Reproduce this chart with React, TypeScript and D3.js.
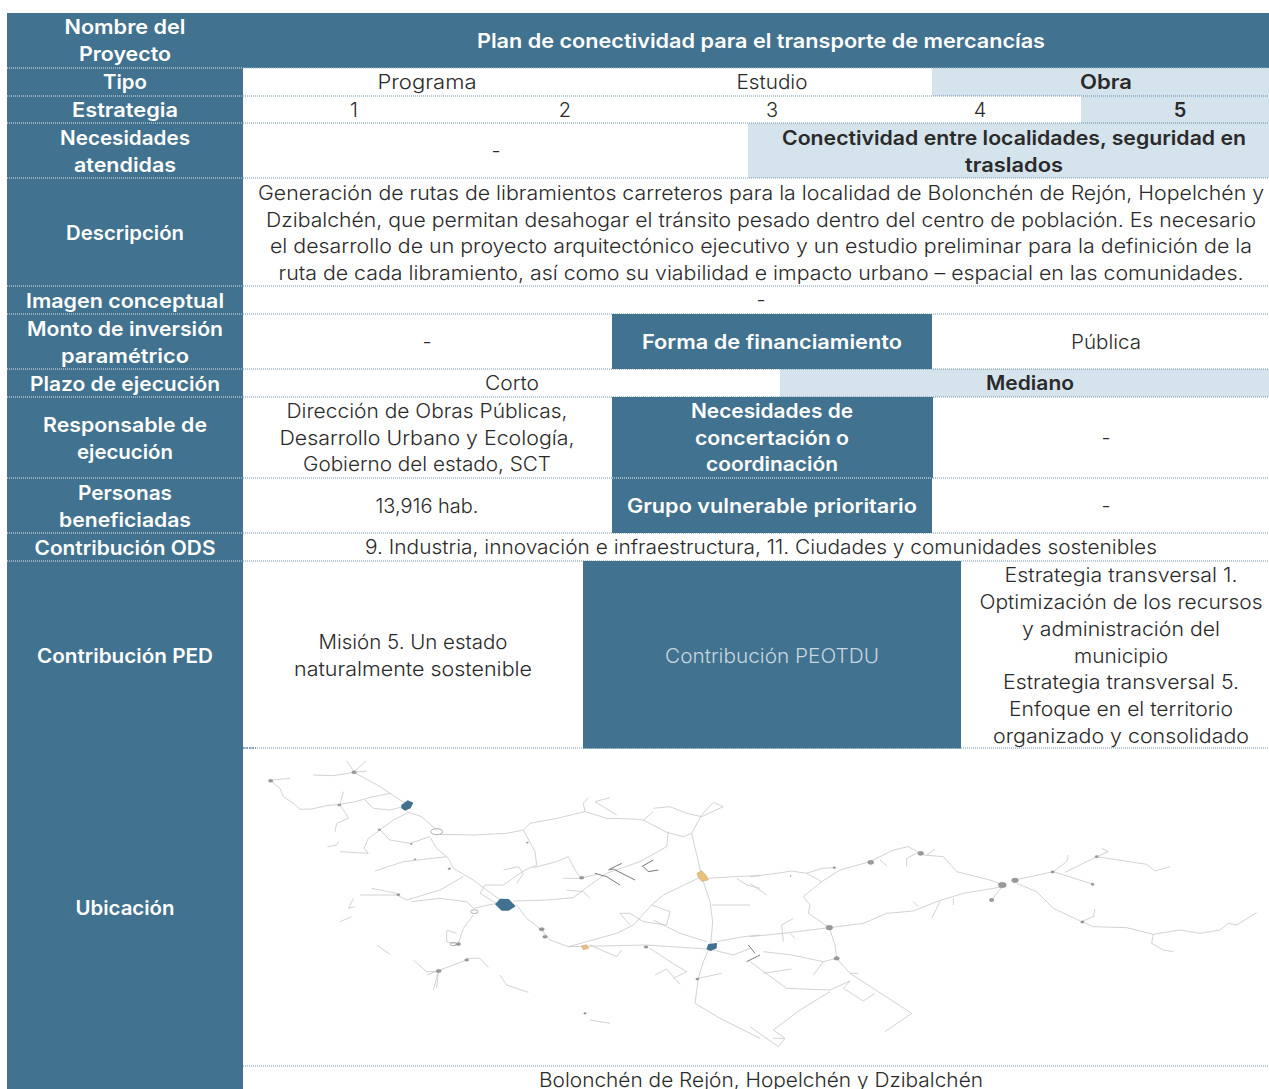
import React from "react";
import * as d3 from "d3";

const BLUE = "#41728f";
const PALE = "#d5e3ec";
const INK = "#2a2a2a";

// Row names and edges of the table, top to bottom
const rowNames = ["nombre", "tipo", "estrategia", "necesidades", "descripcion", "imagen", "monto", "plazo", "responsable", "personas", "ods", "ped", "ubicacion", "pie"];
const rowEdges = [13, 68, 96, 123, 178, 286, 314, 369, 397, 478, 533, 561, 748, 1066, 1094];

// Left column labels
const rowLabels = [
  ["Nombre del", "Proyecto"],
  ["Tipo"],
  ["Estrategia"],
  ["Necesidades", "atendidas"],
  ["Descripción"],
  ["Imagen conceptual"],
  ["Monto de inversión", "paramétrico"],
  ["Plazo de ejecución"],
  ["Responsable de", "ejecución"],
  ["Personas", "beneficiadas"],
  ["Contribución ODS"],
  ["Contribución PED"],
  ["Ubicación"],
];

const projectTitle = ["Plan de conectividad para el transporte de mercancías"];
const tipoOptions = ["Programa", "Estudio", "Obra"];
const estrategiaOptions = ["1", "2", "3", "4", "5"];
const necesidades = ["Conectividad entre localidades, seguridad en", "traslados"];
const descripcion = [
  "Generación de rutas de libramientos carreteros para la localidad de Bolonchén de Rejón, Hopelchén y",
  "Dzibalchén, que permitan desahogar el tránsito pesado dentro del centro de población. Es necesario",
  "el desarrollo de un proyecto arquitectónico ejecutivo y un estudio preliminar para la definición de la",
  "ruta de cada libramiento, así como su viabilidad e impacto urbano – espacial en las comunidades.",
];
const plazoOptions = ["Corto", "Mediano"];
const responsables = ["Dirección de Obras Públicas,", "Desarrollo Urbano y Ecología,", "Gobierno del estado, SCT"];
const concertacion = ["Necesidades de", "concertación o", "coordinación"];
const ods = ["9. Industria, innovación e infraestructura, 11. Ciudades y comunidades sostenibles"];
const ped = ["Misión 5. Un estado", "naturalmente sostenible"];
const peotdu = [
  "Estrategia transversal 1.",
  "Optimización de los recursos",
  "y administración del",
  "municipio",
  "Estrategia transversal 5.",
  "Enfoque en el territorio",
  "organizado y consolidado",
];
const caption = ["Bolonchén de Rejón, Hopelchén y Dzibalchén"];

// Width each line takes in the reference, so the substitute font fills the same run
const lineWidths: Record<string, number> = {
  "Nombre del": 121, Proyecto: 92, Tipo: 44, Estrategia: 106, Necesidades: 130, atendidas: 102,
  "Descripción": 118, "Imagen conceptual": 198, "Monto de inversión": 196, "paramétrico": 128,
  "Plazo de ejecución": 190, "Responsable de": 164, "ejecución": 96, Personas: 94, beneficiadas: 132,
  "Contribución ODS": 181, "Contribución PED": 176, "Ubicación": 99,
  [projectTitle[0]]: 568, Programa: 99, Estudio: 71, Obra: 52,
  [necesidades[0]]: 464, traslados: 98,
  [descripcion[0]]: 1006, [descripcion[1]]: 990, [descripcion[2]]: 982, [descripcion[3]]: 965,
  "Forma de financiamiento": 260, "Pública": 70, Corto: 54, Mediano: 88,
  [responsables[0]]: 281, [responsables[1]]: 295, [responsables[2]]: 248,
  "Necesidades de": 162, "concertación o": 154, "coordinación": 132,
  "13,916 hab.": 103, "Grupo vulnerable prioritario": 290, [ods[0]]: 792,
  [ped[0]]: 189, [ped[1]]: 238, "Contribución PEOTDU": 214,
  [peotdu[0]]: 233, [peotdu[1]]: 283, [peotdu[2]]: 198, [peotdu[3]]: 94, [peotdu[4]]: 236, [peotdu[5]]: 224, [peotdu[6]]: 256,
  [caption[0]]: 444,
};

type Pt = [number, number];

// Map roads, read in the units of the western and eastern halves of the map
const roadsWest: Pt[][] = [
  [[100, 105], [150, 100]],
  [[95, 110], [120, 130], [130, 155], [160, 175], [180, 193], [215, 192], [260, 182], [300, 178], [345, 170], [400, 155], [450, 145]],
  [[220, 90], [280, 92], [342, 82], [380, 78]],
  [[320, 48], [342, 80], [378, 48]],
  [[342, 82], [420, 125], [500, 178]],
  [[300, 178], [310, 140]],
  [[300, 180], [320, 210], [325, 220], [290, 235], [285, 260]],
  [[295, 290], [290, 300], [262, 305]],
  [[375, 165], [400, 190], [450, 195], [490, 185]],
  [[500, 200], [545, 215], [590, 255]],
  [[500, 205], [460, 225], [420, 255], [385, 280], [372, 310], [385, 325], [300, 320]],
  [[420, 255], [450, 285], [510, 295], [570, 275]],
  [[600, 268], [700, 270], [800, 265], [850, 255], [870, 235], [950, 220], [1035, 200], [1100, 220], [1180, 222], [1210, 225], [1280, 262], [1330, 275], [1355, 265]],
  [[1035, 200], [1030, 175], [1045, 158]],
  [[1065, 170], [1110, 158]],
  [[1065, 170], [1130, 210]],
  [[850, 255], [885, 320], [890, 360], [855, 375], [790, 420], [735, 420], [720, 445], [770, 475]],
  [[790, 375], [835, 365], [850, 385], [830, 415]],
  [[572, 280], [590, 310], [625, 340], [640, 370], [700, 405], [760, 450], [800, 478]],
  [[405, 378], [490, 350], [620, 335]],
  [[360, 450], [470, 450], [500, 465], [600, 435], [670, 395]],
  [[395, 430], [470, 445]],
  [[515, 470], [600, 460], [680, 470], [700, 490]],
  [[700, 490], [770, 475]],
  [[700, 510], [670, 550], [655, 595]],
  [[620, 558], [620, 590], [655, 600]],
  [[620, 555], [650, 565]],
  [[680, 645], [600, 675], [560, 690]],
  [[680, 640], [720, 640], [745, 668]],
  [[520, 645], [560, 680], [595, 680], [590, 730]],
  [[595, 680], [580, 735]],
  [[780, 690], [800, 720], [865, 742]],
  [[410, 600], [450, 628]],
  [[300, 530], [335, 515]],
  [[340, 460], [325, 490], [345, 485]],
  [[820, 468], [920, 465], [1000, 458], [1050, 420], [1100, 385], [1200, 350], [1280, 305], [1285, 260]],
  [[880, 368], [950, 350], [985, 335], [1005, 375], [1020, 395]],
  [[970, 400], [1020, 400], [1070, 388]],
  [[980, 435], [1030, 440], [1050, 460]],
  [[830, 480], [860, 520], [905, 555], [930, 585], [985, 605], [1040, 590], [1130, 565], [1180, 540], [1235, 480], [1270, 450], [1385, 395]],
  [[1235, 480], [1290, 500], [1280, 540], [1210, 530], [1170, 505], [1140, 505], [1170, 540]],
  [[1240, 525], [1320, 565], [1400, 590]],
  [[985, 605], [1220, 600], [1400, 612]],
  [[1050, 600], [1130, 635], [1145, 615]],
  [[1230, 610], [1290, 650], [1340, 680], [1300, 700]],
  [[1245, 690], [1280, 672], [1320, 718]],
  [[1355, 265], [1375, 350], [1385, 395], [1410, 470], [1418, 530], [1412, 600], [1390, 650], [1375, 700], [1365, 775], [1440, 820], [1500, 850], [1560, 880]],
  [[1375, 700], [1445, 685]],
  [[1355, 265], [1385, 210], [1420, 172], [1450, 185], [1385, 215], [1340, 205], [1290, 185], [1240, 190]],
  [[1240, 200], [1210, 225]],
  [[1405, 400], [1480, 395], [1560, 392]],
  [[1490, 400], [1520, 420], [1560, 430]],
  [[1415, 480], [1530, 480]],
  [[1430, 590], [1510, 575], [1560, 570]],
  [[1420, 615], [1480, 630], [1530, 610]],
  [[1050, 825], [1110, 835]],
];

const roadsEast: Pt[][] = [
  [[0, 395], [80, 385], [125, 378], [170, 385], [215, 410], [270, 375], [360, 350], [430, 315], [475, 305], [520, 330], [580, 335], [620, 380], [720, 405], [760, 420]],
  [[170, 385], [215, 370], [255, 368]],
  [[215, 410], [160, 455], [180, 480], [175, 505], [238, 548], [340, 535], [410, 505], [490, 498], [560, 470], [640, 445], [760, 425]],
  [[0, 575], [100, 565], [238, 548], [255, 600], [260, 640], [300, 685], [485, 805], [405, 860]],
  [[260, 640], [220, 650], [125, 630], [40, 620]],
  [[130, 520], [95, 540], [100, 590]],
  [[120, 565], [135, 580]],
  [[0, 650], [110, 730], [240, 735], [300, 708], [280, 730], [340, 768], [375, 745]],
  [[300, 685], [325, 685]],
  [[240, 740], [150, 795], [70, 855], [105, 880], [85, 905], [0, 845]],
  [[70, 880], [105, 880]],
  [[40, 685], [125, 672]],
  [[220, 650], [190, 690]],
  [[470, 365], [470, 340], [500, 325]],
  [[530, 330], [555, 312]],
  [[490, 470], [505, 485]],
  [[570, 470], [545, 520]],
  [[610, 460], [610, 480]],
  [[760, 420], [725, 465]],
  [[795, 405], [910, 380], [950, 350], [955, 330]],
  [[910, 380], [1030, 418]],
  [[945, 382], [1040, 335], [1075, 320], [1055, 310]],
  [[1040, 335], [1190, 358], [1215, 378], [1260, 365]],
  [[800, 415], [860, 440], [910, 490], [995, 530], [1030, 515], [1035, 492]],
  [[995, 530], [1030, 545], [1130, 548], [1210, 568], [1290, 555], [1350, 565], [1410, 555], [1435, 535], [1460, 540], [1520, 503]],
  [[1210, 568], [1205, 595], [1240, 615], [1270, 620]],
  [[0, 415], [50, 450]],
  [[390, 345], [410, 362]],
];

// Dark street grids in the western half
const streetsWest: Pt[][] = [
  [[1105, 375], [1120, 372], [1185, 405]],
  [[1065, 385], [1100, 395], [1140, 420]],
  [[1110, 372], [1145, 355]],
  [[1205, 365], [1240, 345]],
  [[1210, 365], [1225, 380], [1255, 375]],
  [[1525, 600], [1545, 625]],
  [[1520, 650], [1560, 630]],
];

// Built up areas
const bluePolygonsWest: Pt[][] = [
  [[484, 180], [503, 166], [520, 173], [512, 190], [495, 197], [484, 190]],
  [[765, 478], [780, 461], [806, 462], [827, 484], [806, 497], [785, 497]],
  [[1399, 613], [1405, 597], [1431, 594], [1430, 610], [1412, 618]],
];
const orangePolygonsWest: Pt[][] = [
  [[1371, 385], [1385, 377], [1400, 393], [1405, 405], [1385, 409], [1375, 397]],
  [[1024, 603], [1040, 599], [1046, 610], [1030, 614]],
];

// Small localities as [x, y, half width]
const townsWest: [number, number, number][] = [
  [92, 107, 7], [342, 82, 7], [298, 180, 5], [418, 254, 4], [514, 297, 3], [525, 343, 3], [628, 371, 4],
  [862, 293, 3], [475, 449, 5], [655, 597, 7], [680, 645, 6], [596, 678, 8], [905, 553, 8], [915, 575, 7],
  [1025, 398, 7], [1218, 606, 6], [1372, 702, 5], [1035, 805, 4],
];
const townsEast: [number, number, number][] = [
  [238, 548, 10], [260, 640, 8], [757, 420, 12], [795, 406, 10], [725, 465, 7], [908, 381, 5],
  [1040, 335, 5], [1028, 418, 5], [997, 531, 5], [512, 325, 9], [362, 352, 9], [253, 368, 4], [122, 393, 2],
];
// Localities drawn only as an outline
const outlineTownsWest: [number, number, number][] = [
  [590, 260, 18], [703, 500, 11], [640, 597, 10],
];

const yRow = d3.scaleOrdinal<string, number>().domain(rowNames).range(rowEdges);
const rowTop = (name: string) => yRow(name);
const rowBottom = (name: string) => rowEdges[rowNames.indexOf(name) + 1];

const xWest = d3.scaleLinear().domain([0, 1560]).range([240, 760]);
const xEast = d3.scaleLinear().domain([0, 1557]).range([750, 1269]);
const yMap = d3.scaleLinear().domain([0, 1032]).range([745, 1089]);

const lineWest = d3.line<Pt>().x((d) => xWest(d[0])).y((d) => yMap(d[1]));
const lineEast = d3.line<Pt>().x((d) => xEast(d[0])).y((d) => yMap(d[1]));

const FONT = "Inter, 'Open Sans', sans-serif";
const LINE_GAP = 26.8;

type CellProps = {
  lines: string[];
  x: number;
  row: string;
  bold?: boolean;
  fill?: string;
  size?: number;
  dy?: number;
};

// Centered block of text, each line fitted to its reference width
const Cell = ({ lines, x, row, bold = false, fill = INK, size = 20, dy = 0 }: CellProps) => {
  const mid = (rowTop(row) + rowBottom(row)) / 2 + dy;
  return (
    <g>
      {lines.map((line, i) => (
        <text
          key={line + i}
          x={x}
          y={mid + (i - (lines.length - 1) / 2) * LINE_GAP + 7}
          textAnchor="middle"
          fontFamily={FONT}
          fontSize={size}
          fontWeight={bold ? 600 : 300}
          fill={fill}
          textLength={lineWidths[line]}
          lengthAdjust="spacingAndGlyphs"
        >
          {line}
        </text>
      ))}
    </g>
  );
};

const band = (row: string, x0: number, x1: number, fill: string) => (
  <rect key={`${row}-${x0}`} x={x0} y={rowTop(row)} width={x1 - x0} height={rowBottom(row) - rowTop(row)} fill={fill} />
);

export default function App() {
  return (
    <svg
      width={1269}
      height={1089}
      viewBox="0 0 1269 1089"
      style={{ position: "absolute", left: 0, top: 0, background: "#fff" }}
    >
      <defs>
        <filter id="soft" x="-5%" y="-5%" width="110%" height="110%">
          <feGaussianBlur stdDeviation="0.4" />
        </filter>
      </defs>

      {/* fills */}
      <rect x={7} y={13} width={236} height={1076} fill={BLUE} />
      {band("nombre", 243, 1269, BLUE)}
      {band("tipo", 932, 1269, PALE)}
      {band("estrategia", 1081, 1269, PALE)}
      {band("necesidades", 748, 1269, PALE)}
      {band("monto", 612, 932, BLUE)}
      {band("plazo", 780, 1269, PALE)}
      {band("responsable", 612, 933, BLUE)}
      {band("personas", 612, 932, BLUE)}
      {band("ped", 583, 961, BLUE)}

      {/* dotted row lines */}
      {rowEdges.slice(1, 12).map((y) => (
        <line key={`a${y}`} x1={7} x2={243} y1={y} y2={y} stroke="#fff" strokeOpacity={0.85} strokeDasharray="1 1" />
      ))}
      {rowEdges.slice(1, 14).map((y) => (
        <line key={`b${y}`} x1={243} x2={1269} y1={y} y2={y} stroke={BLUE} strokeOpacity={0.75} strokeDasharray="1 1" />
      ))}
      <line x1={243} x2={1269} y1={68} y2={68} stroke="#fff" strokeDasharray="1 1" strokeOpacity={0.6} />
      <line x1={612} x2={932} y1={478} y2={478} stroke="#fff" strokeDasharray="1 1" />
      <line x1={583} x2={961} y1={748} y2={748} stroke={BLUE} />
      <line x1={243} x2={256} y1={748} y2={748} stroke={BLUE} strokeDasharray="2 1" />

      {/* map */}
      <g filter="url(#soft)" fill="none" strokeLinejoin="round">
        <g stroke="#c6c6c6" strokeWidth={0.8}>
          {roadsWest.map((d, i) => <path key={i} d={lineWest(d) ?? ""} />)}
          {roadsEast.map((d, i) => <path key={i} d={lineEast(d) ?? ""} />)}
        </g>
        <g stroke="#6a6a6a" strokeWidth={0.9}>
          {streetsWest.map((d, i) => <path key={i} d={lineWest(d) ?? ""} />)}
        </g>
        {outlineTownsWest.map(([x, y, r], i) => (
          <ellipse key={i} cx={xWest(x)} cy={yMap(y)} rx={xWest(r) - xWest(0)} ry={(xWest(r) - xWest(0)) * 0.5} stroke="#999" strokeWidth={0.8} />
        ))}
        <g fill="#9a9a9a" stroke="#777" strokeWidth={0.3}>
          {townsWest.map(([x, y, r], i) => (
            <ellipse key={i} cx={xWest(x)} cy={yMap(y)} rx={xWest(r) - xWest(0)} ry={(xWest(r) - xWest(0)) * 0.65} />
          ))}
          {townsEast.map(([x, y, r], i) => (
            <ellipse key={i} cx={xEast(x)} cy={yMap(y)} rx={xEast(r) - xEast(0)} ry={(xEast(r) - xEast(0)) * 0.7} />
          ))}
        </g>
        {bluePolygonsWest.map((d, i) => <path key={i} d={(lineWest(d) ?? "") + "Z"} fill={BLUE} />)}
        {orangePolygonsWest.map((d, i) => <path key={i} d={(lineWest(d) ?? "") + "Z"} fill="#e8c27c" stroke="#a89060" strokeWidth={0.4} />)}
      </g>

      {/* left column */}
      {rowLabels.map((lines, i) => (
        <Cell key={i} lines={lines} x={125} row={rowNames[i]} bold fill="#fff" dy={rowNames[i] === "nombre" || rowNames[i] === "tipo" || rowNames[i] === "estrategia" ? 0 : 1} />
      ))}

      {/* body */}
      <Cell lines={projectTitle} x={761} row="nombre" bold fill="#fff" />
      <Cell lines={[tipoOptions[0]]} x={427} row="tipo" />
      <Cell lines={[tipoOptions[1]]} x={772} row="tipo" />
      <Cell lines={[tipoOptions[2]]} x={1106} row="tipo" bold />
      <Cell lines={[estrategiaOptions[0]]} x={354} row="estrategia" />
      <Cell lines={[estrategiaOptions[1]]} x={565} row="estrategia" />
      <Cell lines={[estrategiaOptions[2]]} x={772} row="estrategia" />
      <Cell lines={[estrategiaOptions[3]]} x={980} row="estrategia" />
      <Cell lines={[estrategiaOptions[4]]} x={1180} row="estrategia" bold />
      <Cell lines={["-"]} x={496} row="necesidades" />
      <Cell lines={necesidades} x={1014} row="necesidades" bold dy={1} />
      <Cell lines={descripcion} x={761} row="descripcion" dy={1} />
      <Cell lines={["-"]} x={761} row="imagen" />
      <Cell lines={["-"]} x={427} row="monto" />
      <Cell lines={["Forma de financiamiento"]} x={772} row="monto" bold fill="#fff" />
      <Cell lines={["Pública"]} x={1106} row="monto" />
      <Cell lines={[plazoOptions[0]]} x={512} row="plazo" />
      <Cell lines={[plazoOptions[1]]} x={1030} row="plazo" bold />
      <Cell lines={responsables} x={427} row="responsable" />
      <Cell lines={concertacion} x={772} row="responsable" bold fill="#fff" />
      <Cell lines={["-"]} x={1106} row="responsable" />
      <Cell lines={["13,916 hab."]} x={427} row="personas" />
      <Cell lines={["Grupo vulnerable prioritario"]} x={772} row="personas" bold fill="#fff" />
      <Cell lines={["-"]} x={1106} row="personas" />
      <Cell lines={ods} x={761} row="ods" />
      <Cell lines={ped} x={413} row="ped" dy={1} />
      <Cell lines={["Contribución PEOTDU"]} x={772} row="ped" fill="#c7d6df" dy={1} />
      <Cell lines={peotdu} x={1121} row="ped" dy={1} />
      <Cell lines={caption} x={761} row="pie" />
    </svg>
  );
}
